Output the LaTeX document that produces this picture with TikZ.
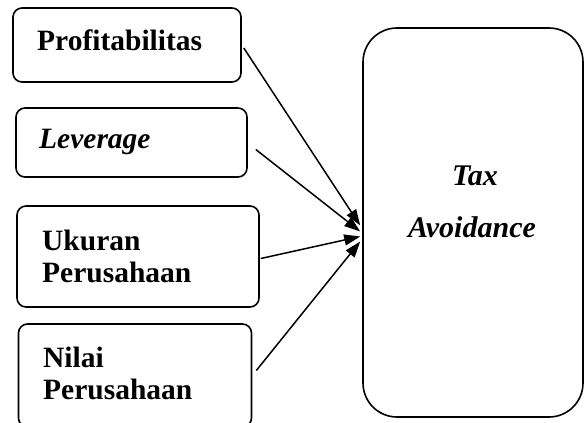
\documentclass[tikz,border=0pt]{standalone}
\usepackage{fontspec}
\setmainfont{Liberation Serif}
\usetikzlibrary{arrows.meta,calc}
\begin{document}
\begin{tikzpicture}[x=1pt,y=-1pt,
  box/.style={draw,line width=1.6pt,rounded corners=9pt,inner sep=0pt},
  bigbox/.style={draw,line width=1.6pt,rounded corners=34pt,inner sep=0pt},
  lbl/.style={inner sep=0pt,anchor=base west,font=\fontsize{29.5}{33}\selectfont\bfseries},
  tlbl/.style={inner sep=0pt,anchor=base,font=\fontsize{30}{33}\selectfont\bfseries\itshape},
  conn/.style={line width=1.5pt,-{Triangle[length=16pt,width=11pt]}}]
\useasboundingbox (0,0) rectangle (584,423);
% boxes
\node[box,minimum width=228pt,minimum height=74pt] (b1) at (127,45) {};
\node[box,minimum width=231pt,minimum height=69pt] (b2) at (131.5,142.5) {};
\node[box,minimum width=242pt,minimum height=101pt] (b3) at (138,256.5) {};
\node[box,minimum width=233pt,minimum height=103pt] (b4) at (135,375.5) {};
\node[bigbox,minimum width=220pt,minimum height=389pt] (tgt) at (473,222.5) {};
% labels
\node[lbl] (t1) at (37,50) {Profitabilitas};
\node[lbl] (t2) at (39,148) {\itshape Leverage};
\node[lbl] (t3a) at (42,250) {Ukuran};
\node[lbl] (t3b) at (42,282) {Perusahaan};
\node[lbl] (t4a) at (43,367) {Nilai};
\node[lbl] (t4b) at (43,399) {Perusahaan};
\node[tlbl] (ta) at (475,185) {Tax};
\node[tlbl] (tb) at (472,237) {Avoidance};
% connector ends
\coordinate (s1) at ($(b1.east)+(2,3)$);
\coordinate (s2) at ($(b2.east)+(8,7)$);
\coordinate (s3) at ($(b3.east)+(1,2)$);
\coordinate (s4) at ($(b4.east)+(4,-5)$);
\coordinate (e1) at ($(tgt.west)+(-2,3)$);
\coordinate (e2) at ($(tgt.west)+(-2,9)$);
\coordinate (e3) at ($(tgt.west)+(-2,14)$);
\coordinate (e4) at ($(tgt.west)+(-2,19)$);
\draw[conn] (s1) -- (e1);
\draw[conn] (s2) -- (e2);
\draw[conn] (s3) -- (e3);
\draw[conn] (s4) -- (e4);
\end{tikzpicture}
\end{document}
